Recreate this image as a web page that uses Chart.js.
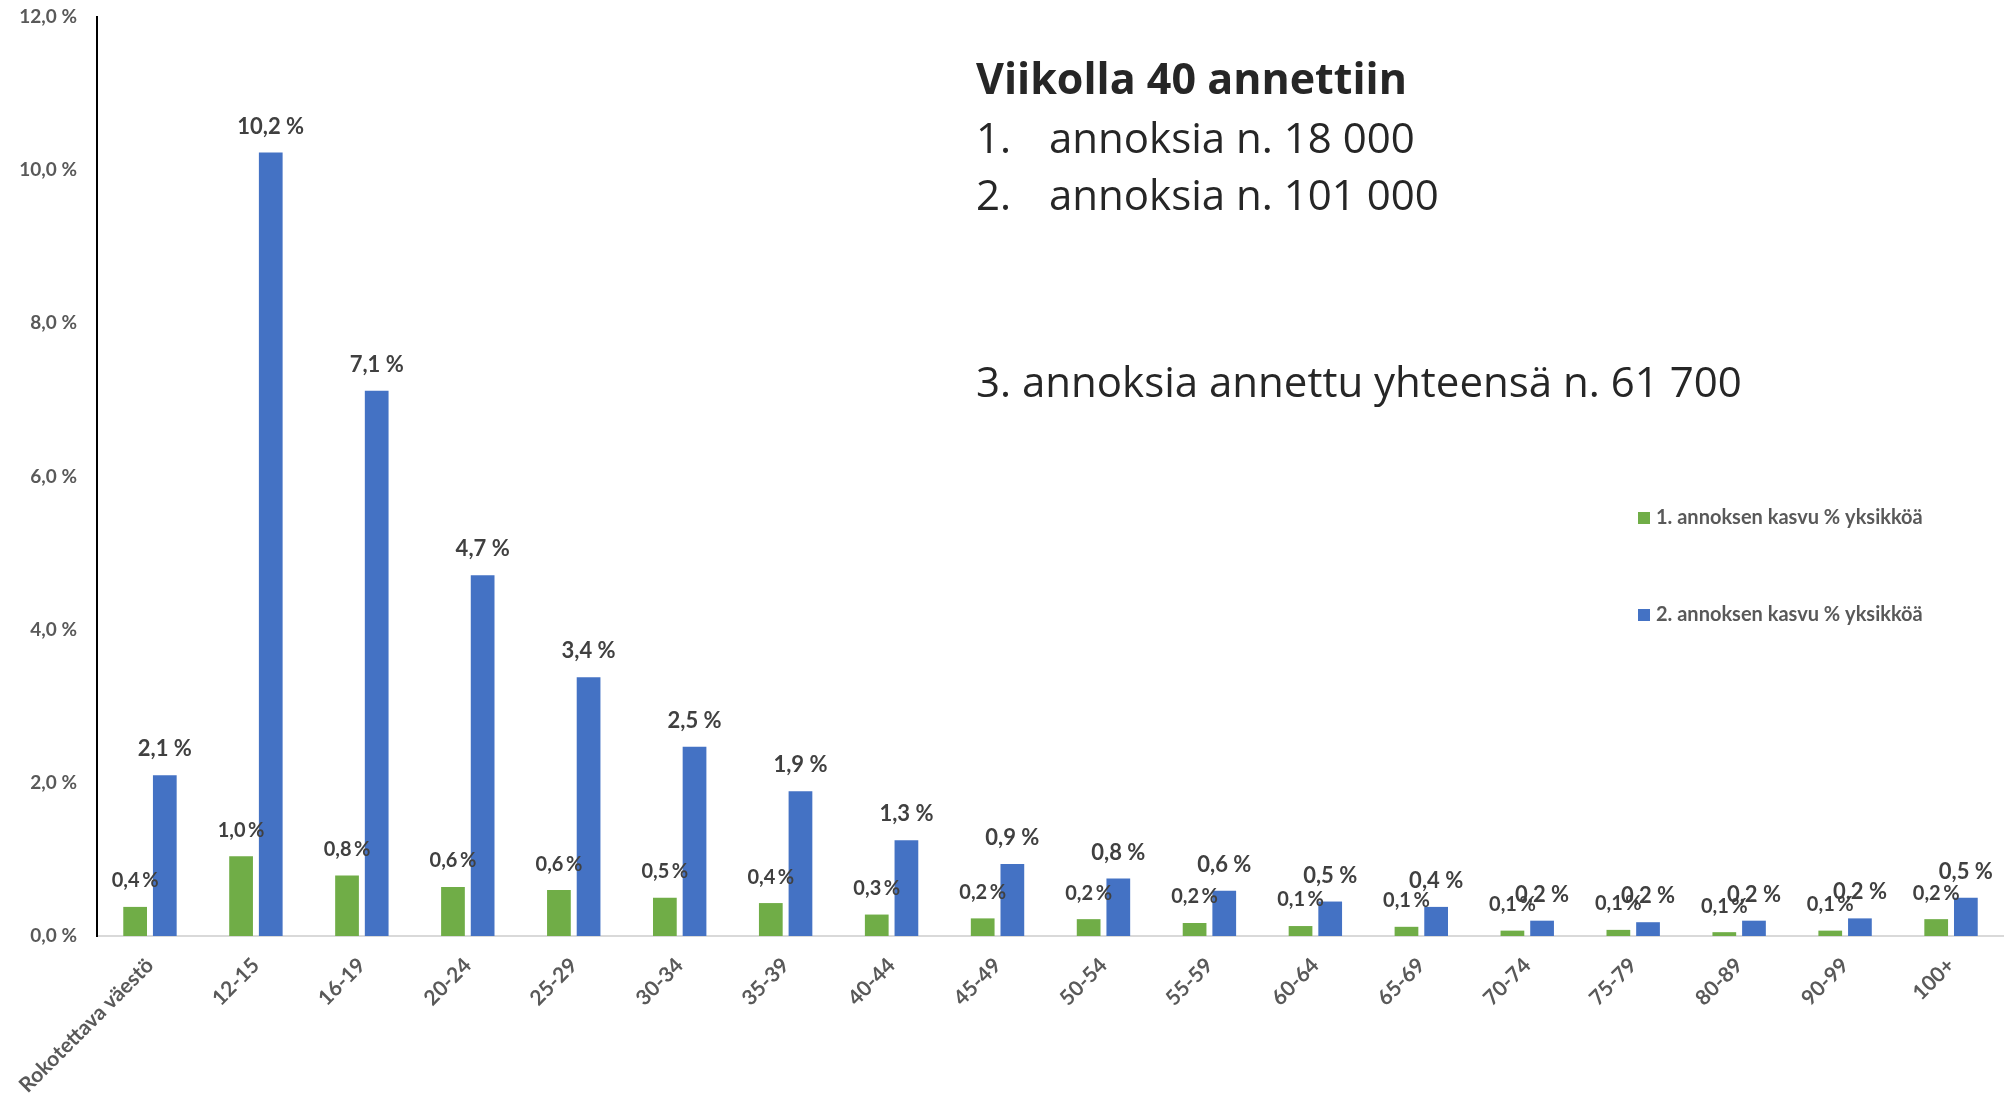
<!DOCTYPE html>
<html>
<head>
<meta charset="utf-8">
<script src="https://cdn.jsdelivr.net/npm/chart.js@4.4.0/dist/chart.umd.min.js"></script>
<style>
  body { margin: 0; background: #fff; }
  #wrap { width: 2004px; height: 1093px; position: relative; }
</style>
</head>
<body>
<div id="wrap"><canvas id="chart"></canvas></div>
<script>
// ikäryhmät
const categories = ['Rokotettava väestö', '12-15', '16-19', '20-24', '25-29', '30-34', '35-39', '40-44',
  '45-49', '50-54', '55-59', '60-64', '65-69', '70-74', '75-79', '80-89', '90-99', '100+'];

// kasvu %-yksikköä (luettu kuvasta)
const dose1 = [0.38, 1.04, 0.79, 0.64, 0.60, 0.50, 0.43, 0.28, 0.23, 0.22, 0.17, 0.13, 0.12, 0.07, 0.08, 0.05, 0.07, 0.22];
const dose2 = [2.10, 10.23, 7.12, 4.71, 3.38, 2.47, 1.89, 1.25, 0.94, 0.75, 0.59, 0.45, 0.38, 0.20, 0.18, 0.20, 0.23, 0.50];

const seriesNames = ['1. annoksen kasvu % yksikköä', '2. annoksen kasvu % yksikköä'];
const yTicks = [0, 2, 4, 6, 8, 10, 12];

const infoTitle = 'Viikolla 40 annettiin';
const infoList = [['1.', 'annoksia n. 18 000'], ['2.', 'annoksia n. 101 000']];
const infoExtra = '3. annoksia annettu yhteensä n. 61 700';

const fmtPct = (v, sep) => v.toFixed(1).replace('.', ',') + sep + '%';

const labelsPlugin = {
  id: 'barLabels',
  afterDatasetsDraw(chart) {
    const ctx = chart.ctx;
    ctx.save();
    ctx.textAlign = 'center';
    ctx.textBaseline = 'middle';
    ctx.fillStyle = '#404040';
    chart.data.datasets.forEach((ds, di) => {
      const meta = chart.getDatasetMeta(di);
      ctx.font = di === 0 ? 'bold 20px Lato' : 'bold 22px Lato';
      meta.data.forEach((bar, i) => {
        const shown = Math.round(ds.data[i] * 10) / 10;
        ctx.fillText(fmtPct(shown, di === 0 ? '\u2009' : ' '), bar.x, bar.y - 26);
      });
    });
    ctx.restore();
  }
};

const textPlugin = {
  id: 'infoText',
  afterDraw(chart) {
    const ctx = chart.ctx;
    ctx.save();
    ctx.textBaseline = 'middle';
    ctx.fillStyle = '#262626';
    ctx.font = 'bold 43px "Open Sans"';
    ctx.fillText(infoTitle, 976, 82);
    ctx.font = '42px "Open Sans"';
    infoList.forEach((row, i) => {
      ctx.fillText(row[0], 976, 141 + i * 57);
      ctx.fillText(row[1], 1049, 141 + i * 57);
    });
    ctx.fillText(infoExtra, 976, 385);

    // selite
    ctx.font = 'bold 20px Lato';
    chart.data.datasets.forEach((ds, i) => {
      const y = 518 + i * 97;
      ctx.fillStyle = ds.backgroundColor;
      ctx.fillRect(1638, y - 6, 12, 12);
      ctx.fillStyle = '#595959';
      ctx.fillText(ds.label, 1656, y);
    });
    ctx.restore();
  }
};

new Chart(document.getElementById('chart'), {
  type: 'bar',
  data: {
    labels: categories,
    datasets: [
      { label: seriesNames[0], data: dose1, backgroundColor: '#70AD47' },
      { label: seriesNames[1], data: dose2, backgroundColor: '#4472C4' }
    ]
  },
  options: {
    responsive: true,
    maintainAspectRatio: false,
    animation: false,
    categoryPercentage: 0.56,
    barPercentage: 0.8,
    layout: { padding: { top: 17, right: 0, left: 0, bottom: 0 } },
    plugins: { legend: { display: false }, tooltip: { enabled: false } },
    scales: {
      x: {
        grid: { display: false, drawTicks: false },
        border: { color: '#d9d9d9', width: 2 },
        ticks: {
          autoSkip: false, minRotation: 45, maxRotation: 45, padding: 17,
          color: '#595959', font: { family: 'Lato', size: 21, weight: 'bold' }
        },
        afterFit(scale) { scale.height = 157; scale.paddingLeft = 0; scale.paddingRight = 0; }
      },
      y: {
        min: 0, max: 12,
        afterBuildTicks(scale) { scale.ticks = yTicks.map(v => ({ value: v })); },
        grid: { display: false, drawTicks: false },
        border: { color: '#000', width: 2 },
        ticks: {
          padding: 20,
          color: '#595959', font: { family: 'Lato', size: 19, weight: 'bold' },
          callback: v => fmtPct(v, ' ')
        },
        afterFit(scale) { scale.width = 97; scale.paddingTop = 0; scale.paddingBottom = 0; }
      }
    }
  },
  plugins: [labelsPlugin, textPlugin]
});
</script>
</body>
</html>
